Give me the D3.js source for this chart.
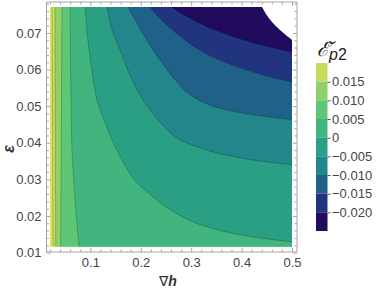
<!DOCTYPE html>
<html lang="en">
<head>
<meta charset="UTF-8">
<title>Contour plot</title>
<style>
  html, body { margin: 0; padding: 0; background: #fff; }
  svg text { font-family: "Liberation Sans", Arial, sans-serif; }
</style>
</head>
<body>
<div id="chart"></div>
<script src="https://d3js.org/d3.v7.min.js"></script>
<script>
// data extent of the shaded field (∇h, ε)
const hExtent = [0.02, 0.5];
const epsExtent = [0.0116, 0.0771];

const xTicksMajor = [0.1, 0.2, 0.3, 0.4, 0.5];
const yTicksMajor = [0.01, 0.02, 0.03, 0.04, 0.05, 0.06, 0.07];
const legendTicks = [0.015, 0.01, 0.005, 0, -0.005, -0.01, -0.015, -0.02];

// contour levels, high to low, and the band colours (band above first level, then below each level)
const levels = [0.02, 0.015, 0.01, 0.005, 0, -0.005, -0.01, -0.015, -0.02, -0.025];
const bandColors = ["#dde35b", "#c8dc5c", "#8ed06b", "#5fc676", "#41b57d", "#2b9f84",
                    "#23868a", "#206188", "#22347f", "#210b5d", "#ffffff"];

// contour lines, [∇h, ε], from top edge to right / bottom edge
const contour020 = [[0.024, 0.0771], [0.025, 0.044], [0.026, 0.0116]];
const contour015 = [[0.0299, 0.0771], [0.0306, 0.044], [0.0313, 0.0116]];
const contour010 = [[0.0438, 0.0771], [0.0425, 0.044], [0.0412, 0.0116]];
const contour005 = [[0.0597, 0.0771], [0.0617, 0.0517], [0.0636, 0.0381], [0.0696, 0.0244], [0.0775, 0.0116]];
const contour000 = [[0.0894, 0.0771], [0.0974, 0.0654], [0.1132, 0.0517], [0.1271, 0.0463], [0.143, 0.0408],
                    [0.1628, 0.0353], [0.1846, 0.0304], [0.2124, 0.0266], [0.2382, 0.0236], [0.2679, 0.0209],
                    [0.2977, 0.0187], [0.3374, 0.0168], [0.377, 0.0154], [0.4365, 0.014], [0.5, 0.0129]];
const contourM005 = [[0.1331, 0.0771], [0.143, 0.0708], [0.1588, 0.0654], [0.1787, 0.0585], [0.2045, 0.0517],
                     [0.2382, 0.0457], [0.2719, 0.0413], [0.3175, 0.0386], [0.377, 0.0364], [0.4365, 0.035], [0.5, 0.034]];
const contourM010 = [[0.1747, 0.0771], [0.1886, 0.0736], [0.2144, 0.0675], [0.2421, 0.0618], [0.2719, 0.0566],
                     [0.2977, 0.0531], [0.3433, 0.05], [0.4107, 0.0479], [0.5, 0.0463]];
const contourM015 = [[0.2184, 0.0771], [0.2342, 0.0746], [0.258, 0.0714], [0.2878, 0.0681], [0.3274, 0.0645],
                     [0.377, 0.0615], [0.4365, 0.0588], [0.5, 0.0566]];
const contourM020 = [[0.262, 0.0771], [0.2779, 0.0755], [0.3076, 0.0733], [0.3473, 0.0708], [0.3969, 0.0684],
                     [0.4465, 0.0665], [0.5, 0.0648]];
const contourM025 = [[0.4405, 0.0771], [0.4484, 0.0752], [0.4603, 0.073], [0.4762, 0.0708], [0.5, 0.0681]];
const contours = [contour020, contour015, contour010, contour005, contour000,
                  contourM005, contourM010, contourM015, contourM020, contourM025];

const W = 378, H = 290;
const frame = { left: 46.5, right: 297, top: 2, bottom: 252 };

const svg = d3.select("#chart").append("svg")
    .attr("width", W).attr("height", H);

const x = d3.scaleLinear().domain(hExtent).range([50, 292]);
const y = d3.scaleLinear().domain(epsExtent).range([246.7, 7]);

svg.append("defs").append("clipPath").attr("id", "field")
  .append("rect")
    .attr("x", x(hExtent[0])).attr("y", y(epsExtent[1]))
    .attr("width", x(hExtent[1]) - x(hExtent[0]))
    .attr("height", y(epsExtent[0]) - y(epsExtent[1]));

const field = svg.append("g").attr("clip-path", "url(#field)");

field.append("rect")
    .attr("x", x(hExtent[0])).attr("y", y(epsExtent[1]))
    .attr("width", x(hExtent[1]) - x(hExtent[0]))
    .attr("height", y(epsExtent[0]) - y(epsExtent[1]))
    .attr("fill", bandColors[0]);

const line = d3.line().x(d => x(d[0])).y(d => y(d[1])).curve(d3.curveCatmullRom);
const poly = d3.line().x(d => x(d[0])).y(d => y(d[1]));

// fill region beyond each contour (lower values) with the next band colour
contours.forEach((pts, i) => {
  const last = pts[pts.length - 1];
  const closing = last[0] < hExtent[1]
    ? [[hExtent[1], epsExtent[0]], [hExtent[1], epsExtent[1]]]
    : [[hExtent[1], epsExtent[1]]];
  field.append("path")
      .attr("d", line(pts) + poly(closing).replace("M", "L") + "Z")
      .attr("fill", bandColors[i + 1]);
});

contours.slice(0, -1).forEach(pts => {
  field.append("path")
      .attr("d", line(pts))
      .attr("fill", "none")
      .attr("stroke", "#000")
      .attr("stroke-opacity", 0.3)
      .attr("stroke-width", 0.7);
});

// frame
svg.append("rect")
    .attr("x", frame.left).attr("y", frame.top)
    .attr("width", frame.right - frame.left).attr("height", frame.bottom - frame.top)
    .attr("fill", "none").attr("stroke", "#a6a6a6").attr("stroke-width", 1);

const xMinor = d3.range(0.02, 0.51, 0.02).filter(v => xTicksMajor.every(m => Math.abs(m - v) > 1e-6));
const yMinor = d3.range(0.012, 0.079, 0.002).filter(v => yTicksMajor.every(m => Math.abs(m - v) > 1e-6)
                                                     && y(v) > frame.top);

function styleAxis(g) {
  g.select(".domain").remove();
  g.selectAll(".tick line").attr("stroke", "#a6a6a6");
  g.selectAll(".tick text").attr("fill", "#444").attr("font-size", 13)
    .attr("font-family", "'Liberation Sans', Arial, sans-serif");
}

svg.append("g").attr("transform", `translate(0,${frame.bottom})`)
  .call(d3.axisBottom(x).tickValues(xTicksMajor).tickSize(-4).tickPadding(6).tickFormat(d3.format(".1f")))
  .call(styleAxis);
svg.append("g").attr("transform", `translate(0,${frame.bottom})`)
  .call(d3.axisBottom(x).tickValues(xMinor).tickSize(-2.5).tickFormat(""))
  .call(styleAxis);
svg.append("g").attr("transform", `translate(0,${frame.top})`)
  .call(d3.axisTop(x).tickValues(xTicksMajor).tickSize(-4).tickFormat(""))
  .call(styleAxis);
svg.append("g").attr("transform", `translate(0,${frame.top})`)
  .call(d3.axisTop(x).tickValues(xMinor).tickSize(-2.5).tickFormat(""))
  .call(styleAxis);

svg.append("g").attr("transform", `translate(${frame.left},0)`)
  .call(d3.axisLeft(y).tickValues(yTicksMajor).tickSize(-4).tickPadding(5).tickFormat(d3.format(".2f")))
  .call(styleAxis);
svg.append("g").attr("transform", `translate(${frame.left},0)`)
  .call(d3.axisLeft(y).tickValues(yMinor).tickSize(-2.5).tickFormat(""))
  .call(styleAxis);
svg.append("g").attr("transform", `translate(${frame.right},0)`)
  .call(d3.axisRight(y).tickValues(yTicksMajor).tickSize(-4).tickFormat(""))
  .call(styleAxis);
svg.append("g").attr("transform", `translate(${frame.right},0)`)
  .call(d3.axisRight(y).tickValues(yMinor).tickSize(-2.5).tickFormat(""))
  .call(styleAxis);

// axis labels
const xl = svg.append("text")
    .attr("x", 168).attr("y", 286).attr("text-anchor", "middle")
    .attr("font-size", 14).attr("fill", "#333");
xl.append("tspan").text("∇");
xl.append("tspan").attr("font-weight", "bold").attr("font-style", "italic").text("h");

svg.append("text")
    .attr("transform", "translate(14,149) rotate(-90)")
    .attr("text-anchor", "middle")
    .attr("font-size", 16).attr("font-weight", "bold").attr("font-style", "italic")
    .attr("fill", "#333")
    .text("ε");

// legend bar
const yL = d3.scaleLinear().domain([-0.025, 0.02]).range([231, 63]);
const legend = svg.append("g");
legend.selectAll("rect")
  .data(levels.slice(0, -1))
  .join("rect")
    .attr("x", 316).attr("width", 11.5)
    .attr("y", d => yL(d))
    .attr("height", (d, i) => yL(levels[i + 1]) - yL(d))
    .attr("fill", (d, i) => bandColors[i + 1]);

legend.append("g").attr("transform", "translate(327.5,0)")
  .call(d3.axisRight(yL).tickValues(legendTicks).tickSize(3).tickPadding(1.5)
    .tickFormat(d => d === 0 ? "0" : d3.format(".3f")(d)))
  .call(g => {
    g.select(".domain").remove();
    g.selectAll(".tick line").attr("stroke", "#555");
    g.selectAll(".tick text").attr("fill", "#444").attr("font-size", 13)
      .attr("font-family", "'Liberation Sans', Arial, sans-serif");
  });

const title = svg.append("text")
    .attr("x", 317).attr("y", 56)
    .attr("font-family", "'DejaVu Serif', serif")
    .attr("fill", "#222");
title.append("tspan").attr("font-size", 20).attr("font-style", "italic").text("ℰ\u0306");
title.append("tspan").attr("font-size", 16).attr("font-style", "italic").attr("dy", 4).text("p");
title.append("tspan").attr("font-size", 16).text("2");
</script>
</body>
</html>
